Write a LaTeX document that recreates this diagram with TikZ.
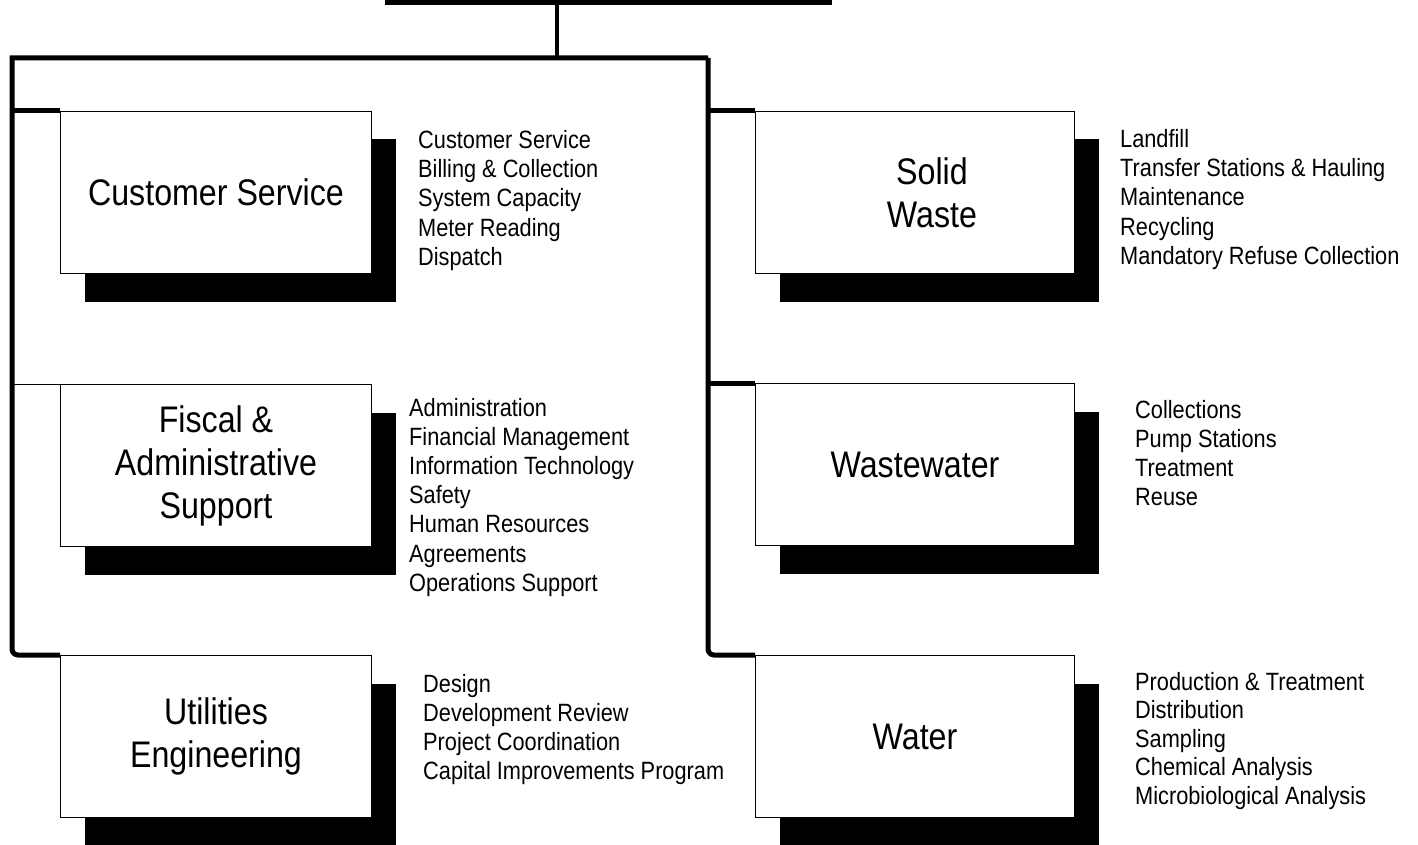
\documentclass[tikz,border=0pt]{standalone}
\usepackage{fontspec}
\setmainfont{Liberation Sans}[FakeStretch=0.87]
\usetikzlibrary{shadows}
\newcommand{\titlesize}{\fontsize{37}{43}\selectfont}
\newcommand{\dutysize}{\fontsize{25}{29}\selectfont}
\tikzset{unit/.style={draw,line width=1pt,fill=white,anchor=north west,minimum height=162pt,inner sep=0pt,align=center,font=\titlesize,drop shadow={fill=black,opacity=1,shadow xshift=24pt,shadow yshift=-28pt}},leftunit/.style={unit,minimum width=311pt},rightunit/.style={unit,minimum width=319pt},duty/.style={anchor=base west,inner sep=0pt,font=\dutysize},bus/.style={line width=5pt},feed/.style={line width=1pt}}
\begin{document}
\begin{tikzpicture}[x=1pt,y=-1pt]
\useasboundingbox (0,0) rectangle (1418,845);
% divisions
\node[leftunit] (cs) at (60,111) {Customer Service};
\node[leftunit] (fas) at (60,384) {Fiscal \&\\Administrative\\Support};
\node[leftunit] (ue) at (60,655) {Utilities\\Engineering};
\node[rightunit] (sw) at (755,111) {\hspace*{34pt}Solid\\\hspace*{34pt}Waste};
\node[rightunit] (ww) at (755,383) {Wastewater};
\node[rightunit] (wat) at (755,655) {Water};
% reporting lines
\coordinate (dirL) at (385,2.5);
\coordinate (dirR) at (832,2.5);
\coordinate (split) at (557,58);
\coordinate (lbus) at (12,58);
\coordinate (rbus) at (708,58);
\draw[bus] (dirL) -- (dirR);
\draw[line width=4pt] (dirL -| split) -- (split);
\draw[bus] (rbus) -- (lbus) [rounded corners=6pt] |- (ue.north west);
\draw[bus,rounded corners=6pt] (rbus) |- (wat.north west);
\draw[bus] (lbus |- cs.north west) -- (cs.north west);
\draw[feed] (lbus |- fas.north west) -- (fas.north west);
\draw[bus] (rbus |- sw.north west) -- (sw.north west);
\draw[bus] (rbus |- ww.north west) -- (ww.north west);
% duties
\foreach \t [count=\i from 0] in {Customer Service,Billing \& Collection,System Capacity,Meter Reading,Dispatch}
  \node[duty] (csd\i) at (418,{149+29*\i}) {\t};
\foreach \t [count=\i from 0] in {Administration,Financial Management,Information Technology,Safety,Human Resources,Agreements,Operations Support}
  \node[duty] (fasd\i) at (409,{416+29.2*\i}) {\t};
\foreach \t [count=\i from 0] in {Design,Development Review,Project Coordination,Capital Improvements Program}
  \node[duty] (ued\i) at (423,{692+29*\i}) {\t};
\foreach \t [count=\i from 0] in {Landfill,Transfer Stations \& Hauling,Maintenance,Recycling,Mandatory Refuse Collection}
  \node[duty] (swd\i) at (1120,{148+29*\i}) {\t};
\foreach \t [count=\i from 0] in {Collections,Pump Stations,Treatment,Reuse}
  \node[duty] (wwd\i) at (1135,{418+29*\i}) {\t};
\foreach \t [count=\i from 0] in {Production \& Treatment,Distribution,Sampling,Chemical Analysis,Microbiological Analysis}
  \node[duty] (watd\i) at (1135,{690+28.5*\i}) {\t};
\end{tikzpicture}
\end{document}
